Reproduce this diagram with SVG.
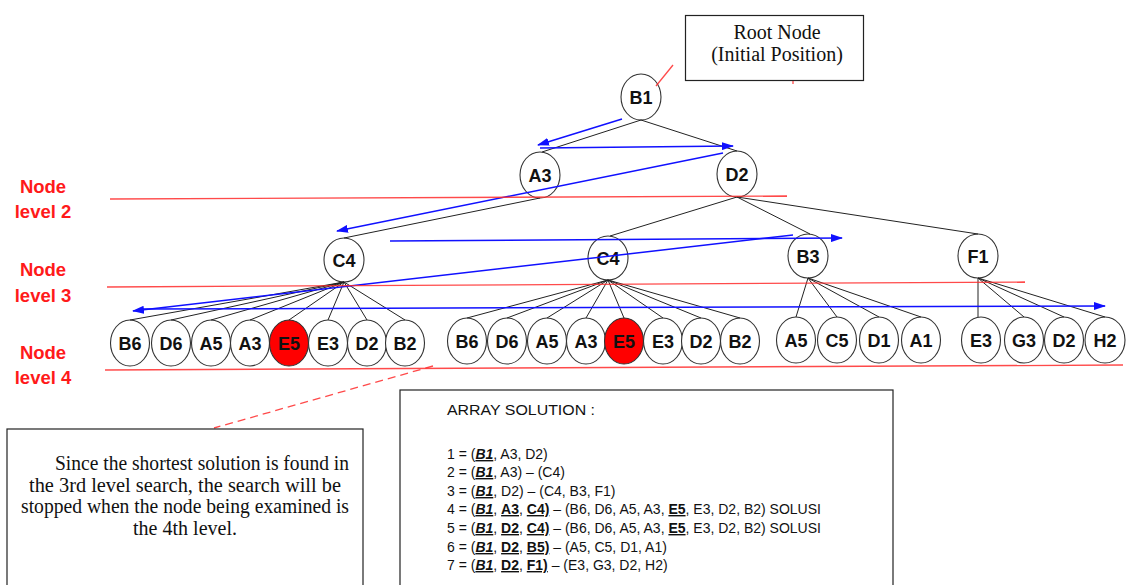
<svg xmlns="http://www.w3.org/2000/svg" width="1130" height="585" viewBox="0 0 1130 585">
<style>
.nd{fill:#fff;stroke:#333;stroke-width:1.1}
.hot{fill:#ff0000;stroke:#333;stroke-width:1.1}
.nt{font-family:"Liberation Sans",Arial,sans-serif;font-weight:bold;font-size:18px;fill:#111;text-anchor:middle}
.ed{stroke:#222;stroke-width:1;fill:none}
.bl{stroke:#1010ff;stroke-width:1.5;fill:none;marker-end:url(#ah)}
.bln{stroke:#1010ff;stroke-width:1.5;fill:none}
.lv{stroke:#ff2a2a;stroke-width:1.3;fill:none;opacity:0.85}
.lab{font-family:"Liberation Sans",Arial,sans-serif;font-weight:bold;font-size:18.5px;fill:#ff1a1a;text-anchor:middle}
.box{fill:#fff;stroke:#222;stroke-width:1.2}
.serif{font-family:"Liberation Serif","Times New Roman",serif;font-size:20px;fill:#111}
.sans{font-family:"Liberation Sans",Arial,sans-serif;font-size:14px;fill:#111}
.bu{font-weight:bold;text-decoration:underline}
.biu{font-weight:bold;font-style:italic;text-decoration:underline}
</style>
<defs>
<marker id="ah" viewBox="0 0 12 8" refX="11" refY="4" markerWidth="12" markerHeight="8" markerUnits="userSpaceOnUse" orient="auto"><path d="M0,0 L12,4 L0,8 z" fill="#1010ff"/></marker>
</defs>
<rect width="1130" height="585" fill="#fff"/>

<!-- root node callout box -->
<g id="root-label">
<rect class="box" x="685.5" y="15.5" width="178" height="65"/>
<text class="serif" x="777" y="39" text-anchor="middle">Root Node</text>
<text class="serif" x="777" y="61" text-anchor="middle">(Initial Position)</text>
</g>

<!-- level labels -->
<g id="level-labels">
<text class="lab" x="43" y="193">Node</text>
<text class="lab" x="43" y="218">level 2</text>
<text class="lab" x="43" y="276">Node</text>
<text class="lab" x="43" y="302">level 3</text>
<text class="lab" x="43" y="359">Node</text>
<text class="lab" x="43" y="384">level 4</text>
</g>

<!-- nodes -->
<g id="nodes">
<g id="n-B1"><ellipse class="nd" cx="641" cy="97" rx="20" ry="23"/><text class="nt" x="641" y="103.5">B1</text></g>
<g id="n-A3"><ellipse class="nd" cx="540" cy="175" rx="20" ry="23"/><text class="nt" x="540" y="181.5">A3</text></g>
<g id="n-D2"><ellipse class="nd" cx="737" cy="174" rx="20" ry="23"/><text class="nt" x="737" y="180.5">D2</text></g>
<g id="n-C4a"><ellipse class="nd" cx="344" cy="260" rx="20" ry="22"/><text class="nt" x="344" y="266.5">C4</text></g>
<g id="n-C4b"><ellipse class="nd" cx="608" cy="258" rx="20" ry="22"/><text class="nt" x="608" y="264.5">C4</text></g>
<g id="n-B3"><ellipse class="nd" cx="808" cy="256" rx="20" ry="22"/><text class="nt" x="808" y="262.5">B3</text></g>
<g id="n-F1"><ellipse class="nd" cx="978" cy="256" rx="20" ry="22"/><text class="nt" x="978" y="262.5">F1</text></g>

<g id="n-B6a"><ellipse class="nd" cx="130" cy="343" rx="19.5" ry="23"/><text class="nt" x="130" y="349.5">B6</text></g>
<g id="n-D6a"><ellipse class="nd" cx="171" cy="343" rx="19.5" ry="23"/><text class="nt" x="171" y="349.5">D6</text></g>
<g id="n-A5a"><ellipse class="nd" cx="211" cy="343" rx="19.5" ry="23"/><text class="nt" x="211" y="349.5">A5</text></g>
<g id="n-A3a"><ellipse class="nd" cx="250" cy="343" rx="19.5" ry="23"/><text class="nt" x="250" y="349.5">A3</text></g>
<g id="n-E5a"><ellipse class="hot" cx="289" cy="343" rx="19.5" ry="23"/><text class="nt" x="289" y="349.5">E5</text></g>
<g id="n-E3a"><ellipse class="nd" cx="328" cy="343" rx="19.5" ry="23"/><text class="nt" x="328" y="349.5">E3</text></g>
<g id="n-D2a"><ellipse class="nd" cx="367" cy="343" rx="19.5" ry="23"/><text class="nt" x="367" y="349.5">D2</text></g>
<g id="n-B2a"><ellipse class="nd" cx="405" cy="343" rx="19.5" ry="23"/><text class="nt" x="405" y="349.5">B2</text></g>

<g id="n-B6b"><ellipse class="nd" cx="467" cy="341" rx="19.5" ry="23"/><text class="nt" x="467" y="347.5">B6</text></g>
<g id="n-D6b"><ellipse class="nd" cx="507" cy="341" rx="19.5" ry="23"/><text class="nt" x="507" y="347.5">D6</text></g>
<g id="n-A5b"><ellipse class="nd" cx="547" cy="341" rx="19.5" ry="23"/><text class="nt" x="547" y="347.5">A5</text></g>
<g id="n-A3b"><ellipse class="nd" cx="586" cy="341" rx="19.5" ry="23"/><text class="nt" x="586" y="347.5">A3</text></g>
<g id="n-E5b"><ellipse class="hot" cx="624" cy="341" rx="19.5" ry="23"/><text class="nt" x="624" y="347.5">E5</text></g>
<g id="n-E3b"><ellipse class="nd" cx="663" cy="341" rx="19.5" ry="23"/><text class="nt" x="663" y="347.5">E3</text></g>
<g id="n-D2b"><ellipse class="nd" cx="701" cy="341" rx="19.5" ry="23"/><text class="nt" x="701" y="347.5">D2</text></g>
<g id="n-B2b"><ellipse class="nd" cx="740" cy="341" rx="19.5" ry="23"/><text class="nt" x="740" y="347.5">B2</text></g>

<g id="n-A5c"><ellipse class="nd" cx="796" cy="340" rx="19.5" ry="23"/><text class="nt" x="796" y="346.5">A5</text></g>
<g id="n-C5c"><ellipse class="nd" cx="837" cy="340" rx="19.5" ry="23"/><text class="nt" x="837" y="346.5">C5</text></g>
<g id="n-D1c"><ellipse class="nd" cx="879" cy="340" rx="19.5" ry="23"/><text class="nt" x="879" y="346.5">D1</text></g>
<g id="n-A1c"><ellipse class="nd" cx="921" cy="340" rx="19.5" ry="23"/><text class="nt" x="921" y="346.5">A1</text></g>

<g id="n-E3d"><ellipse class="nd" cx="981" cy="340" rx="19.5" ry="23"/><text class="nt" x="981" y="346.5">E3</text></g>
<g id="n-G3d"><ellipse class="nd" cx="1024" cy="340" rx="19.5" ry="23"/><text class="nt" x="1024" y="346.5">G3</text></g>
<g id="n-D2d"><ellipse class="nd" cx="1064" cy="340" rx="19.5" ry="23"/><text class="nt" x="1064" y="346.5">D2</text></g>
<g id="n-H2d"><ellipse class="nd" cx="1105" cy="340" rx="20" ry="23"/><text class="nt" x="1105" y="346.5">H2</text></g>
</g>

<!-- connectors -->
<g id="connectors">
<path class="ed" d="M641,120 L542,152 M641,120 L737,151"/>
<path class="ed" d="M540,198 L344,238"/>
<path class="ed" d="M737,197 L610,236 M737,197 L810,234 M737,197 L978,234"/>
<path class="ed" d="M344,282 L130,320 M344,282 L171,320 M344,282 L211,320 M344,282 L250,320 M344,282 L289,320 M344,282 L328,320 M344,282 L367,320 M344,282 L405,320"/>
<path class="ed" d="M608,280 L467,318 M608,280 L507,318 M608,280 L547,318 M608,280 L586,318 M608,280 L624,318 M608,280 L663,318 M608,280 L701,318 M608,280 L740,318"/>
<path class="ed" d="M808,278 L796,317 M808,278 L837,317 M808,278 L879,317 M808,278 L921,317"/>
<path class="ed" d="M978,278 L978,317 M978,278 L1024,317 M978,278 L1064,317 M978,278 L1105,317"/>

<line class="bl" x1="622" y1="119" x2="538" y2="145"/>
<line class="bl" x1="540" y1="148" x2="733" y2="146"/>
<line class="bl" x1="723" y1="153" x2="337" y2="231"/>
<line class="bl" x1="390" y1="241" x2="842" y2="238"/>
<line class="bl" x1="793" y1="235" x2="133" y2="311"/>
<line class="bl" x1="140" y1="309" x2="1105" y2="306"/>

<line class="lv" x1="656" y1="86" x2="673" y2="65"/>
<line class="lv" x1="793" y1="81" x2="793" y2="84"/>
<line class="lv" x1="433" y1="366" x2="214" y2="428" stroke-dasharray="8,5"/>
</g>

<!-- level separator lines -->
<g id="level-lines">
<line class="lv" x1="110" y1="199" x2="787" y2="196"/>
<line class="lv" x1="107" y1="287" x2="1025" y2="282"/>
<line class="lv" x1="105" y1="370" x2="1123" y2="365"/>
</g>

<!-- note box -->
<g id="note">
<rect class="box" x="7" y="429" width="356" height="160"/>
<text class="serif" x="55" y="470" textLength="294" lengthAdjust="spacingAndGlyphs">Since the shortest solution is found in</text>
<text class="serif" x="29" y="492" textLength="312" lengthAdjust="spacingAndGlyphs">the 3rd level search, the search will be</text>
<text class="serif" x="21" y="513" textLength="328" lengthAdjust="spacingAndGlyphs">stopped when the node being examined is</text>
<text class="serif" x="133" y="535" textLength="104" lengthAdjust="spacingAndGlyphs">the 4th level.</text>
</g>

<!-- array solution box -->
<g id="array-solution">
<rect class="box" x="400" y="390" width="493" height="200"/>
<text class="sans" x="447" y="415" font-size="15" textLength="148" lengthAdjust="spacingAndGlyphs">ARRAY SOLUTION :</text>
<text class="sans" x="447" y="459">1 = (<tspan class="biu">B1</tspan>, A3, D2)</text>
<text class="sans" x="447" y="477">2 = (<tspan class="biu">B1</tspan>, A3) – (C4)</text>
<text class="sans" x="447" y="496">3 = (<tspan class="biu">B1</tspan>, D2) – (C4, B3, F1)</text>
<text class="sans" x="447" y="514">4 = (<tspan class="biu">B1</tspan>, <tspan class="bu">A3</tspan>, <tspan class="bu">C4)</tspan> – (B6, D6, A5, A3, <tspan class="bu">E5</tspan>, E3, D2, B2) SOLUSI</text>
<text class="sans" x="447" y="533">5 = (<tspan class="biu">B1</tspan>, <tspan class="bu">D2</tspan>, <tspan class="bu">C4)</tspan> – (B6, D6, A5, A3, <tspan class="bu">E5</tspan>, E3, D2, B2) SOLUSI</text>
<text class="sans" x="447" y="552">6 = (<tspan class="biu">B1</tspan>, <tspan class="bu">D2</tspan>, <tspan class="bu">B5)</tspan> – (A5, C5, D1, A1)</text>
<text class="sans" x="447" y="570">7 = (<tspan class="biu">B1</tspan>, <tspan class="bu">D2</tspan>, <tspan class="bu">F1)</tspan> – (E3, G3, D2, H2)</text>
</g>
</svg>
